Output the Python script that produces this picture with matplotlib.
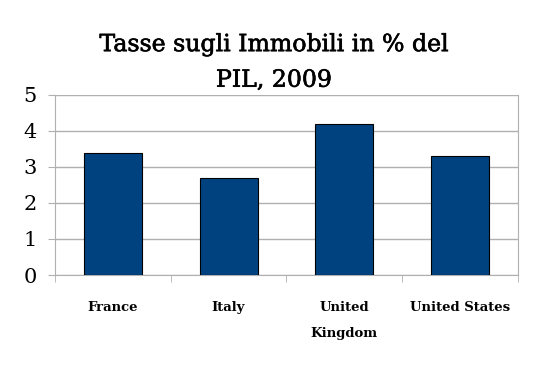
import numpy as np
import matplotlib.pyplot as plt
import matplotlib.patheffects as pe

countries = ["France", "Italy", "United\nKingdom", "United States"]
tax_pct = [3.4, 2.7, 4.2, 3.3]
yticks = [0, 1, 2, 3, 4, 5]

plt.rcParams["font.family"] = ["DejaVu Serif"]

fig = plt.figure(figsize=(5.48, 3.68), dpi=100)
ax = fig.add_axes([0.1004, 0.2527, 0.8446, 0.4893])

x = np.arange(len(countries))
ax.bar(x, tax_pct, width=0.5, color="#00427f", edgecolor="black", linewidth=0.8, zorder=3)

ax.set_xlim(-0.5, len(countries) - 0.5)
ax.set_ylim(0, 5)
ax.set_yticks(yticks)
ax.set_yticklabels([str(v) for v in yticks], fontsize=15)
ax.set_xticks(x)
ax.set_xticklabels(countries, fontsize=9.5, fontweight="bold", linespacing=2.3)
ax.set_xticks(np.arange(len(countries) + 1) - 0.5, minor=True)
ax.tick_params(axis="x", which="major", length=0, pad=19)
ax.tick_params(axis="x", which="minor", length=5, color="#b0b0b0", direction="out")
ax.tick_params(axis="y", length=5, color="#b0b0b0", pad=8)

ax.grid(axis="y", color="#b0b0b0", linewidth=1, zorder=0)
for side in ["left", "right", "bottom"]:
    ax.spines[side].set_color("#b0b0b0")
ax.spines["top"].set_visible(False)

# slightly heavier than regular, lighter than DejaVu bold
fig.suptitle("Tasse sugli Immobili in % del\nPIL, 2009", fontsize=17, y=0.91,
             linespacing=1.7,
             path_effects=[pe.withStroke(linewidth=0.45, foreground="black")])

fig.savefig("out.png", dpi=100)
